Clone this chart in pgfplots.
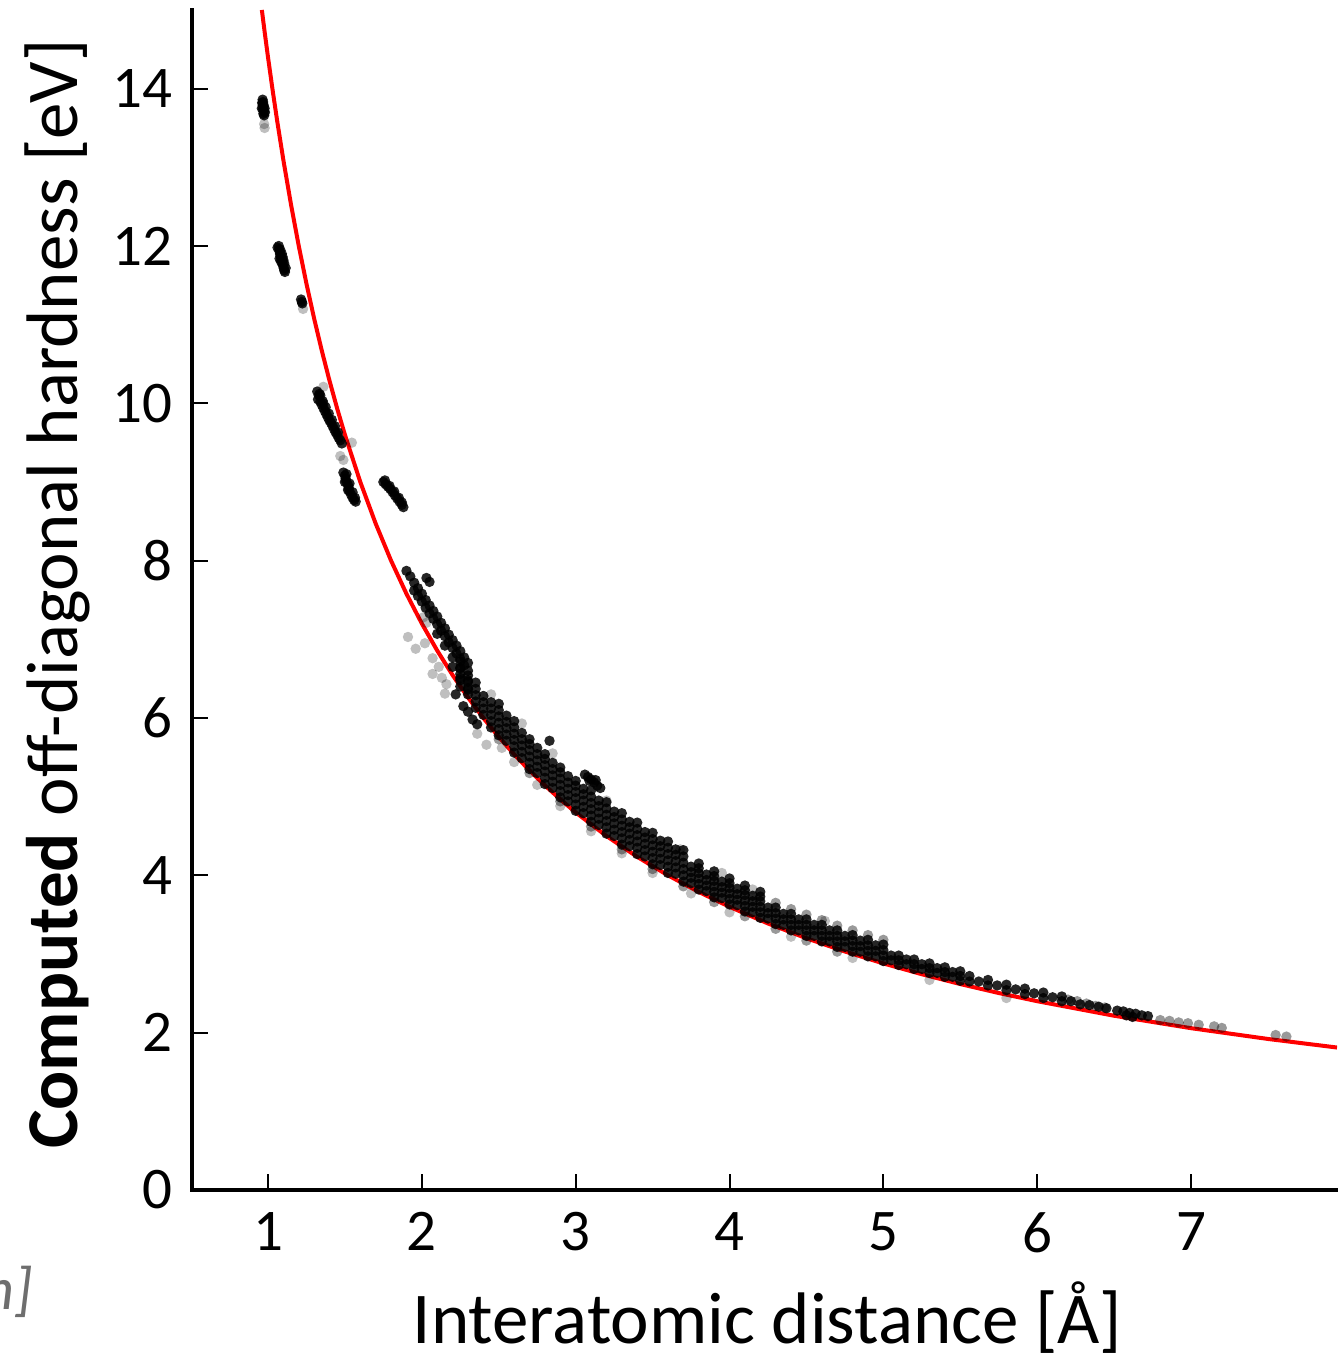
\documentclass[border=0pt]{standalone}
\usepackage{fontspec}
\setmainfont{Carlito}
\usepackage{pgfplots}
\pgfplotsset{compat=1.18}

\begin{document}
\begin{tikzpicture}
\begin{axis}[
  scale only axis,
  width=572.5pt, height=590pt,
  xmin=0.506, xmax=7.949,
  ymin=0, ymax=15,
  axis x line=bottom, axis y line=left,
  axis line style={-, line width=2pt, line cap=rect},
  xtick={1,2,3,4,5,6,7},
  ytick={0,2,4,6,8,10,12,14},
  tick align=inside,
  major tick length=8pt,
  tick style={line width=1pt, black},
  /pgf/number format/assume math mode=true,
  every tick label/.append style={font=\fontsize{29.5}{34}\selectfont, inner sep=0pt},
  xticklabel style={anchor=north, yshift=-11pt},
  yticklabel style={anchor=east, xshift=-9.5pt},
  xlabel={Interatomic distance [Å]},
  ylabel={\textbf{Computed} off-diagonal hardness [eV]},
  every axis x label/.style={at={(rel axis cs:0.5026,-0.1305)}, anchor=base, inner sep=0pt,
    font=\fontsize{36.5}{42}\selectfont},
  every axis y label/.style={at={(rel axis cs:-0.0996,0.5051)}, anchor=base, rotate=90, inner sep=0pt,
    font=\fontsize{36.5}{42}\selectfont},
]

% light grey scattered points
\addplot[only marks, mark=*, mark size=2.6pt,
  mark options={draw opacity=0, fill=black, fill opacity=0.25}] coordinates {
(0.975,13.55) (0.978,13.5) (1.228,11.2) (1.36,10.21) (1.47,9.33) (1.49,9.28) (1.545,9.5)
(1.91,7.03) (1.96,6.88) (2.02,6.95) (2.07,6.76) (2.11,6.65) (2.07,6.56) (2.13,6.51)
(2.16,6.43) (2.15,6.31) (2.01,7.28) (2.03,7.21)
(2.36,5.80) (2.42,5.66) (2.52,5.62) (2.6,5.44) (2.75,5.15) (2.9,4.88) (3.1,4.56)
(3.3,4.28) (3.5,4.03) (3.75,3.77) (4.0,3.53) (4.4,3.22) (4.8,2.95) (5.3,2.67) (5.8,2.44)
(2.65,5.93) (3.68,4.33) (3.95,4.03) (4.15,3.82) (4.62,3.42) (2.45,6.3) (3.2,4.95) (2.85,5.55)
};

% mid grey points: tail and band edges
\addplot[only marks, mark=*, mark size=2.6pt,
  mark options={draw opacity=0, fill=black, fill opacity=0.4}] coordinates {
(6.2,2.42) (6.26,2.40) (6.32,2.37) (6.38,2.34) (6.44,2.32)
(6.8,2.16) (6.86,2.15) (6.92,2.13) (6.98,2.12) (7.05,2.10) (7.15,2.08) (7.2,2.06)
(7.55,1.97) (7.62,1.95)
(4.3,3.65) (4.4,3.57) (4.5,3.5) (4.6,3.43) (4.7,3.36) (4.8,3.3) (4.9,3.24) (5.0,3.18)
(2.5,5.73) (2.7,5.30) (2.9,4.94) (3.1,4.62) (3.3,4.33) (3.5,4.08) (3.7,3.86)
(3.9,3.66) (4.1,3.48) (4.3,3.32) (4.5,3.17) (4.7,3.03)
};

% dark clusters and main band
\addplot[only marks, mark=*, mark size=2.6pt,
  mark options={draw opacity=0, fill=black, fill opacity=0.85}] coordinates {
(0.965,13.86) (0.968,13.83) (0.97,13.80) (0.972,13.77) (0.968,13.74) (0.972,13.71)
(0.97,13.68) (0.975,13.66) (0.966,13.79) (0.96,13.75) (0.978,13.75) (0.962,13.82) (0.98,13.7)
(1.07,12.0) (1.072,11.96) (1.075,11.93) (1.078,11.9) (1.082,11.87) (1.086,11.84)
(1.09,11.81) (1.094,11.78) (1.098,11.75) (1.102,11.72) (1.106,11.69) (1.11,11.67)
(1.08,11.95) (1.09,11.9) (1.1,11.82) (1.105,11.78) (1.085,11.8)
(1.062,11.98) (1.115,11.72) (1.095,11.86) (1.075,11.84)
(1.215,11.32) (1.22,11.29) (1.223,11.27)
(1.32,10.15) (1.33,10.10) (1.325,10.05) (1.34,10.02) (1.35,9.98) (1.36,9.94) (1.37,9.90)
(1.38,9.86) (1.39,9.82) (1.40,9.78) (1.41,9.75) (1.42,9.71) (1.43,9.67) (1.44,9.63)
(1.45,9.60) (1.46,9.56) (1.47,9.53) (1.48,9.49) (1.34,10.1) (1.36,10.0)
(1.335,10.12) (1.355,10.03) (1.375,9.95) (1.395,9.87) (1.415,9.79) (1.435,9.71) (1.455,9.63)
(1.49,9.12) (1.50,9.08) (1.505,9.04) (1.51,9.0) (1.52,8.96) (1.525,8.92) (1.53,8.88)
(1.54,8.84) (1.55,8.8) (1.56,8.77) (1.57,8.75) (1.5,9.0) (1.52,8.9)
(1.51,9.1) (1.53,8.98) (1.55,8.87) (1.565,8.8)
(1.75,9.0) (1.765,8.97) (1.78,8.94) (1.795,8.91) (1.81,8.87) (1.825,8.83) (1.84,8.79)
(1.855,8.75) (1.87,8.71) (1.88,8.68)
(1.76,9.02) (1.79,8.95) (1.82,8.88) (1.85,8.8) (1.87,8.74)
(2.03,7.78) (2.05,7.73)
(1.9,7.87) (1.925,7.80) (1.95,7.72) (1.975,7.65) (2.0,7.58) (2.025,7.50) (2.05,7.43)
(2.075,7.36) (2.1,7.29) (2.125,7.21) (2.15,7.14) (2.175,7.06) (2.2,6.99) (2.225,6.92)
(2.25,6.85) (2.275,6.77) (2.3,6.70)
(1.95,7.62) (1.975,7.55) (2.0,7.48) (2.025,7.40) (2.05,7.33) (2.075,7.26) (2.1,7.19)
(2.125,7.11) (2.15,7.04) (2.175,6.96) (2.2,6.89) (2.225,6.82) (2.25,6.75) (2.275,6.67) (2.3,6.60)
(2.1,7.07) (2.15,6.92) (2.2,6.77) (2.25,6.63) (2.3,6.48)
(2.2,6.65) (2.25,6.51) (2.3,6.36)
(2.27,6.15) (2.3,6.08) (2.33,5.98) (2.36,5.92) (2.22,6.3)
(2.25,6.40) (2.25,6.48) (2.25,6.56) (2.25,6.64) (2.25,6.72)
(2.3,6.30) (2.3,6.38) (2.3,6.46) (2.3,6.54)
(2.35,6.13) (2.35,6.21) (2.35,6.29) (2.35,6.37) (2.35,6.45)
(2.4,6.04) (2.4,6.12) (2.4,6.20) (2.4,6.28)
(2.45,5.88) (2.45,5.96) (2.45,6.04) (2.45,6.12) (2.45,6.20)
(2.5,5.78) (2.5,5.86) (2.5,5.94) (2.5,6.02) (2.5,6.10) (2.5,6.18)
(2.55,5.71) (2.55,5.79) (2.55,5.87) (2.55,5.95) (2.55,6.03)
(2.6,5.56) (2.6,5.64) (2.6,5.72) (2.6,5.80) (2.6,5.88) (2.6,5.96)
(2.65,5.49) (2.65,5.57) (2.65,5.65) (2.65,5.73) (2.65,5.81)
(2.7,5.35) (2.7,5.43) (2.7,5.51) (2.7,5.59) (2.7,5.67) (2.7,5.73)
(2.75,5.30) (2.75,5.38) (2.75,5.46) (2.75,5.54) (2.75,5.62)
(2.8,5.16) (2.8,5.24) (2.8,5.32) (2.8,5.40) (2.8,5.48) (2.8,5.54)
(2.85,5.11) (2.85,5.19) (2.85,5.27) (2.85,5.35) (2.85,5.43)
(2.9,4.99) (2.9,5.07) (2.9,5.15) (2.9,5.23) (2.9,5.31) (2.9,5.37)
(2.95,4.94) (2.95,5.02) (2.95,5.10) (2.95,5.18) (2.95,5.26)
(3.0,4.82) (3.0,4.90) (3.0,4.98) (3.0,5.06) (3.0,5.14) (3.0,5.20)
(2.83,5.71)
(3.06,5.28) (3.08,5.25) (3.1,5.22) (3.12,5.18) (3.14,5.14) (3.16,5.11) (3.09,5.2) (3.13,5.21)
(3.05,4.79) (3.05,4.87) (3.05,4.95) (3.05,5.03) (3.05,5.10)
(3.1,4.68) (3.1,4.76) (3.1,4.84) (3.1,4.92) (3.1,5.00) (3.1,5.08)
(3.15,4.64) (3.15,4.72) (3.15,4.80) (3.15,4.88) (3.15,4.95)
(3.2,4.53) (3.2,4.61) (3.2,4.69) (3.2,4.77) (3.2,4.85) (3.2,4.93)
(3.25,4.50) (3.25,4.58) (3.25,4.66) (3.25,4.74) (3.25,4.81)
(3.3,4.39) (3.3,4.47) (3.3,4.55) (3.3,4.63) (3.3,4.71) (3.3,4.79)
(3.35,4.37) (3.35,4.45) (3.35,4.53) (3.35,4.61) (3.35,4.68)
(3.4,4.27) (3.4,4.35) (3.4,4.43) (3.4,4.51) (3.4,4.59) (3.4,4.67)
(3.45,4.24) (3.45,4.32) (3.45,4.40) (3.45,4.48) (3.45,4.55)
(3.5,4.14) (3.5,4.22) (3.5,4.30) (3.5,4.38) (3.5,4.46) (3.5,4.54)
(3.55,4.13) (3.55,4.21) (3.55,4.29) (3.55,4.37) (3.55,4.44)
(3.6,4.03) (3.6,4.11) (3.6,4.19) (3.6,4.27) (3.6,4.35) (3.6,4.43)
(3.65,4.02) (3.65,4.10) (3.65,4.18) (3.65,4.26) (3.65,4.33)
(3.7,3.92) (3.7,4.00) (3.7,4.08) (3.7,4.16) (3.7,4.24) (3.7,4.32)
(3.75,3.90) (3.75,3.97) (3.75,4.04) (3.75,4.11)
(3.8,3.82) (3.8,3.89) (3.8,3.96) (3.8,4.03) (3.8,4.09) (3.8,4.15)
(3.85,3.80) (3.85,3.87) (3.85,3.94) (3.85,4.01)
(3.9,3.72) (3.9,3.79) (3.9,3.86) (3.9,3.93) (3.9,3.99) (3.9,4.05)
(3.95,3.71) (3.95,3.78) (3.95,3.85) (3.95,3.92)
(4.0,3.63) (4.0,3.70) (4.0,3.77) (4.0,3.84) (4.0,3.90) (4.0,3.96)
(4.05,3.62) (4.05,3.69) (4.05,3.76) (4.05,3.83)
(4.1,3.54) (4.1,3.61) (4.1,3.68) (4.1,3.75) (4.1,3.81) (4.1,3.87)
(4.15,3.53) (4.15,3.60) (4.15,3.67) (4.15,3.74)
(4.2,3.46) (4.2,3.53) (4.2,3.60) (4.2,3.67) (4.2,3.73) (4.2,3.79)
(4.25,3.45) (4.25,3.52) (4.25,3.59)
(4.3,3.38) (4.3,3.45) (4.3,3.52) (4.3,3.59)
(4.35,3.37) (4.35,3.44) (4.35,3.51)
(4.4,3.30) (4.4,3.37) (4.4,3.44) (4.4,3.51)
(4.45,3.30) (4.45,3.37) (4.45,3.44)
(4.5,3.23) (4.5,3.30) (4.5,3.37) (4.5,3.44)
(4.55,3.23) (4.55,3.30) (4.55,3.37)
(4.6,3.16) (4.6,3.23) (4.6,3.30) (4.6,3.37)
(4.65,3.16) (4.65,3.23) (4.65,3.30)
(4.7,3.09) (4.7,3.16) (4.7,3.23) (4.7,3.30)
(4.75,3.09) (4.75,3.16) (4.75,3.23)
(4.8,3.03) (4.8,3.10) (4.8,3.17) (4.8,3.24)
(4.85,3.03) (4.85,3.10) (4.85,3.17)
(4.9,2.97) (4.9,3.04) (4.9,3.11) (4.9,3.18)
(4.95,2.97) (4.95,3.04) (4.95,3.11)
(5.0,2.91) (5.0,2.98) (5.0,3.05) (5.0,3.12)
(5.05,2.92) (5.05,2.98)
(5.1,2.86) (5.1,2.92) (5.1,2.98)
(5.15,2.87) (5.15,2.93)
(5.2,2.81) (5.2,2.87) (5.2,2.93)
(5.25,2.81) (5.25,2.87)
(5.3,2.76) (5.3,2.82) (5.3,2.88)
(5.35,2.76) (5.35,2.82)
(5.4,2.71) (5.4,2.77) (5.4,2.83)
(5.45,2.71) (5.45,2.77)
(5.5,2.66) (5.5,2.72) (5.5,2.78)
(5.56,2.65) (5.56,2.72) (5.62,2.65) (5.68,2.60) (5.68,2.67) (5.74,2.60)
(5.8,2.54) (5.8,2.61) (5.86,2.55) (5.92,2.49) (5.92,2.56) (5.98,2.50)
(6.04,2.44) (6.04,2.51) (6.1,2.45) (6.16,2.40) (6.16,2.46) (6.22,2.40)
(6.28,2.36) (6.34,2.35) (6.4,2.33) (6.45,2.31)
(6.52,2.28) (6.56,2.27) (6.6,2.25) (6.64,2.24) (6.68,2.22) (6.72,2.21) (6.58,2.22) (6.62,2.2)
};

% fitted 1/r curve
\addplot[red, line width=2pt] coordinates {
(0.96,15.0) (0.98,14.694) (1.0,14.4) (1.03,13.981) (1.06,13.585) (1.1,13.091)
(1.15,12.522) (1.2,12.0) (1.25,11.52) (1.3,11.077) (1.35,10.667) (1.4,10.286)
(1.45,9.931) (1.5,9.6) (1.6,9.0) (1.7,8.471) (1.8,8.0) (1.9,7.579) (2.0,7.2)
(2.1,6.857) (2.2,6.545) (2.3,6.261) (2.4,6.0) (2.5,5.76) (2.6,5.538) (2.7,5.333)
(2.8,5.143) (2.9,4.966) (3.0,4.8) (3.2,4.5) (3.4,4.235) (3.6,4.0) (3.8,3.789)
(4.0,3.6) (4.25,3.388) (4.5,3.2) (4.75,3.032) (5.0,2.88) (5.25,2.743) (5.5,2.618)
(5.75,2.504) (6.0,2.4) (6.5,2.215) (7.0,2.057) (7.5,1.92) (7.949,1.811)
};

\coordinate (nlab) at (rel axis cs:-0.1389,-0.1017);
\coordinate (bbsw) at (rel axis cs:-0.16769,-0.14407);
\coordinate (bbne) at (rel axis cs:1,1.00847);
\end{axis}
\node[anchor=base east, inner sep=0pt, text=black!57, font=\fontsize{30}{36}\selectfont\itshape]
  at (nlab) {n]};
\pgfresetboundingbox
\path[use as bounding box] (bbsw) rectangle (bbne);
\end{tikzpicture}
\end{document}
